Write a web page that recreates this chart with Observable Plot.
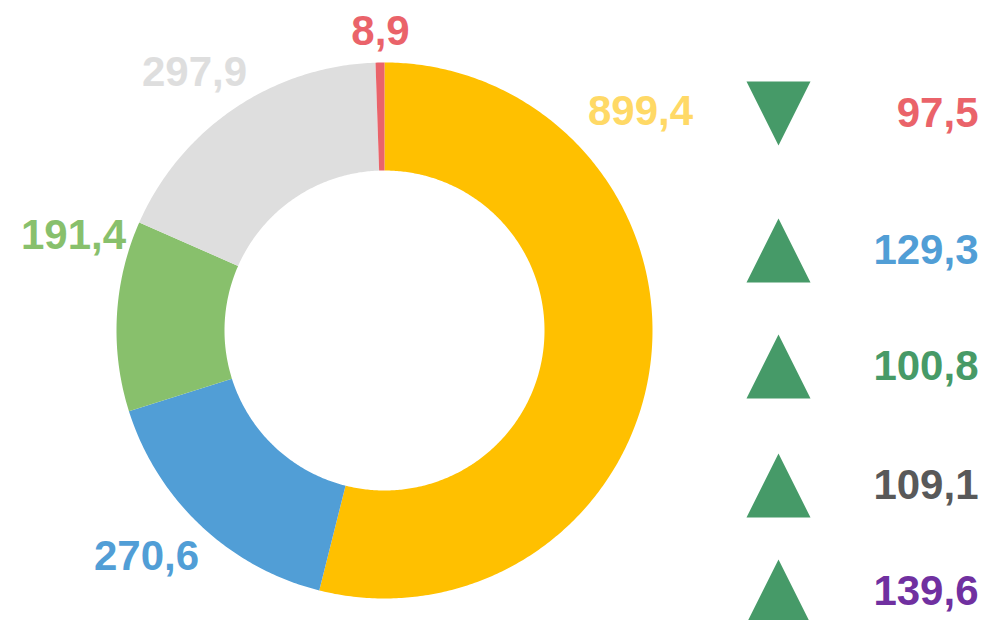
<!DOCTYPE html>
<html>
<head>
<meta charset="utf-8">
<script src="https://cdn.jsdelivr.net/npm/d3@7"></script>
<script src="https://cdn.jsdelivr.net/npm/@observablehq/plot@0.6"></script>
<style>
  html, body { margin: 0; padding: 0; background: #fff; }
  #chart { width: 985px; height: 620px; overflow: hidden; }
</style>
</head>
<body>
<div id="chart"></div>
<script>
// ---- data ----
const sliceValues = [899.4, 270.6, 191.4, 297.9, 8.9];
const sliceColors = ["#FFC000", "#519ED6", "#88C06C", "#DEDEDE", "#EA636A"];
const sliceLabelColors = ["#FFD966", "#519ED6", "#88C06C", "#DEDEDE", "#EA636A"];

const indexValues = [97.5, 129.3, 100.8, 109.1, 139.6];
const indexDirections = ["down", "up", "up", "up", "up"];
const indexColors = ["#EA636A", "#519ED6", "#479A67", "#595959", "#7030A0"];

// ---- layout (pixels) ----
const W = 985, H = 620;
const cx = 384, cy = 330, rOuter = 268, rInner = 160;
const labelPos = [[640, 111], [146, 556], [73, 235], [194, 72], [380, 31]];
const triX = 778, textX = 978;
const rowY = [113, 250, 366, 485, 591];
const triColor = "#469A68";

const fmt = v => v.toFixed(1).replace(".", ",");

// compute slice polygons from the pie layout
const pie = d3.pie().sort(null).value(d => d)(sliceValues);
const arcPts = [];
pie.forEach((p, i) => {
  const n = Math.max(4, Math.ceil((p.endAngle - p.startAngle) / 0.01));
  const push = (r, a) => arcPts.push({k: i, x: cx + r * Math.sin(a), y: cy - r * Math.cos(a), c: sliceColors[i]});
  for (let j = 0; j <= n; j++) push(rOuter, p.startAngle + (p.endAngle - p.startAngle) * j / n);
  for (let j = n; j >= 0; j--) push(rInner, p.startAngle + (p.endAngle - p.startAngle) * j / n);
});

const sliceLabels = sliceValues.map((v, i) => ({
  x: labelPos[i][0], y: labelPos[i][1], t: fmt(v), c: sliceLabelColors[i]
}));
const rows = indexValues.map((v, i) => ({
  y: rowY[i], t: fmt(v), c: indexColors[i], rot: indexDirections[i] === "down" ? 180 : 0
}));

const isoTriangle = {
  draw(context, size) {
    const h = Math.sqrt(size / Math.PI);
    context.moveTo(0, -h);
    context.lineTo(h, h);
    context.lineTo(-h, h);
    context.closePath();
  }
};

const chart = Plot.plot({
  width: W, height: H,
  margin: 0,
  x: {domain: [0, W], range: [0, W], axis: null},
  y: {domain: [0, H], range: [0, H], axis: null},
  style: {fontFamily: "'Liberation Sans', Arial, sans-serif", background: "#fff"},
  marks: [
    Plot.line(arcPts, {x: "x", y: "y", z: "k", fill: "c", stroke: null, curve: "linear"}),
    Plot.text(sliceLabels, {x: "x", y: "y", text: "t", fill: "c", fontSize: 42, fontWeight: "bold", textAnchor: "middle"}),
    Plot.dot(rows, {x: () => triX, y: "y", symbol: () => isoTriangle, r: 32, fill: triColor, stroke: null, rotate: "rot"}),
    Plot.text(rows, {x: () => textX, y: "y", text: "t", fill: "c", fontSize: 42, fontWeight: "bold", textAnchor: "end"})
  ]
});
document.getElementById("chart").appendChild(chart);
</script>
</body>
</html>
